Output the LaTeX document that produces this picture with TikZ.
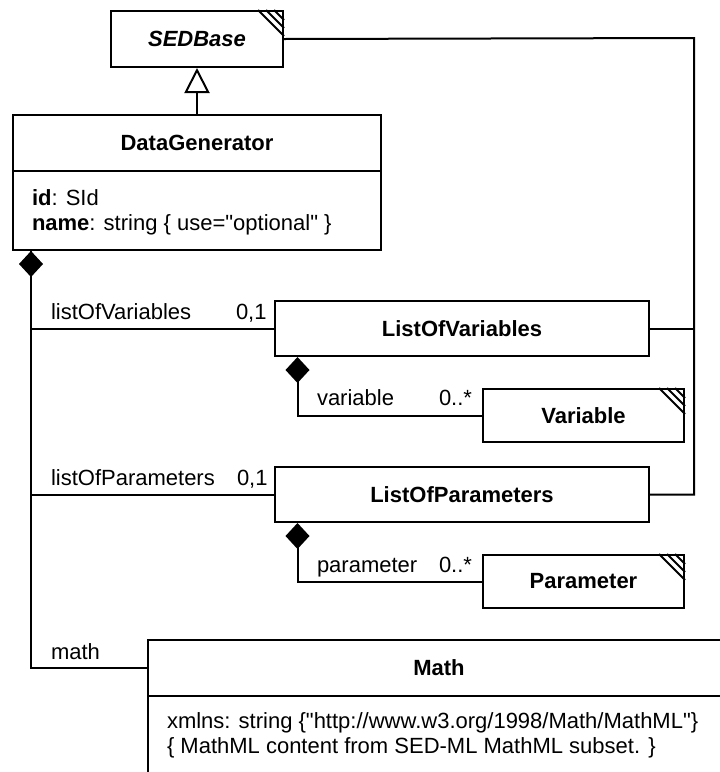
\documentclass[tikz,border=0pt]{standalone}
\usepackage{fontspec}
\newfontfamily\umlfont{Liberation Sans}
\usetikzlibrary{arrows.meta}
\begin{document}
\begin{tikzpicture}[x=1pt,y=-1pt,line width=2pt,
  every node/.style={font=\umlfont\fontsize{22}{25}\selectfont,inner sep=0pt},
  cls/.style={draw,rectangle,anchor=north west,line width=2pt},
  ttl/.style={font=\umlfont\fontsize{22}{25}\selectfont\bfseries},
  lbl/.style={anchor=base west},
  comp/.style={{Diamond[length=26pt,width=24pt,line width=0pt]}-},
  inh/.style={-{Triangle[open,length=25pt,width=25pt]}}
  ]
\useasboundingbox (0,0) rectangle (720,772);
\clip (0,0) rectangle (720,772);
% classes
\node[cls,minimum width=172pt,minimum height=56pt] (sed) at (110,10) {};
\node[ttl] at (sed.center) {\itshape SEDBase};
\node[cls,minimum width=368pt,minimum height=56pt] (dg) at (12,114) {};
\node[ttl] at (dg.center) {DataGenerator};
\node[cls,minimum width=368pt,minimum height=79pt] (dga) at (12,170) {};
\node[lbl] (dgid) at (31,205) {\textbf{id}: SId};
\node[lbl] (dgname) at (31,230) {\textbf{name}: string \{ use="optional" \}};
\node[cls,minimum width=374pt,minimum height=55pt] (lov) at (274,300) {};
\node[ttl] at (lov.center) {ListOfVariables};
\node[cls,minimum width=201pt,minimum height=53pt] (var) at (482,388) {};
\node[ttl] at (var.center) {Variable};
\node[cls,minimum width=374pt,minimum height=55pt] (lop) at (274,466) {};
\node[ttl] at (lop.center) {ListOfParameters};
\node[cls,minimum width=201pt,minimum height=53pt] (par) at (482,554) {};
\node[ttl] at (par.center) {Parameter};
\node[cls,minimum width=582pt,minimum height=56pt] (mt) at (147,639) {};
\node[ttl] at (mt.center) {Math};
\node[cls,minimum width=582pt,minimum height=120pt] (mta) at (147,695) {};
\node[lbl] (mx) at (166,728) {xmlns: string \{"http://www.w3.org/1998/Math/MathML"\}};
\node[lbl] (mc) at (166,753) {\{ MathML content from SED-ML MathML subset. \}};
% hatches
\foreach \n in {sed,var,par}{
  \foreach \d in {26,18,10}{
    \draw ([xshift=-\d pt]\n.north east) -- ([yshift=-\d pt]\n.north east);
  }
}
% inheritance
\draw[inh] (dg.north) -- (sed.south);
\coordinate (rt) at (694,38);
\draw (sed.east) -- (rt) |- (lop.east);
\draw (lov.east) -- (lov.east -| rt);
% compositions
\coordinate (dgd) at ([xshift=19pt]dga.south west);
\draw[comp] (dgd) |- (lov.west);
\draw (dgd) |- (lop.west);
\draw (dgd) |- (mt.west);
\draw[comp] ([xshift=23.5pt]lov.south west) |- (var.west);
\draw[comp] ([xshift=23.5pt]lop.south west) |- (par.west);
% labels
\node[lbl] (l1) at (50,319) {listOfVariables};
\node[lbl] (m1) at (235,319) {0,1};
\node[lbl] (l2) at (50,485) {listOfParameters};
\node[lbl] (m2) at (236,485) {0,1};
\node[lbl] (l3) at (316,405) {variable};
\node[lbl] (m3) at (438,405) {0..*};
\node[lbl] (l4) at (316,572) {parameter};
\node[lbl] (m4) at (438,572) {0..*};
\node[lbl] (l5) at (50,659) {math};
\end{tikzpicture}
\end{document}
